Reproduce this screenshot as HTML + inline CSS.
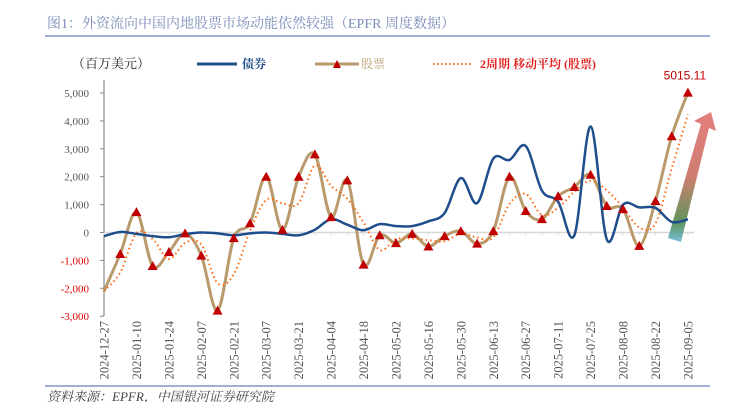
<!DOCTYPE html>
<html><head><meta charset="utf-8"><style>
body{margin:0;width:730px;height:402px;overflow:hidden;background:#fff;font-family:"Liberation Serif","Noto Serif CJK SC",serif}
#title{position:absolute;left:47px;top:13px;font-size:14px;color:#7a8cb8;white-space:nowrap}
</style></head><body>
<div id="title">图1：外资流向中国内地股票市场动能依然较强（EPFR 周度数据）</div>
<svg id="chart" width="730" height="402" style="position:absolute;left:0;top:0">
<defs><linearGradient id="ag" x1="0" y1="1" x2="0" y2="0"><stop offset="0" stop-color="#6ab8d8"/><stop offset="0.15" stop-color="#4d8a4a"/><stop offset="0.5" stop-color="#c87060"/><stop offset="1" stop-color="#e07070"/></linearGradient></defs>
<line x1="45" y1="36" x2="710" y2="36" stroke="#7f96c8" stroke-width="1.5"/>
<line x1="45" y1="386" x2="710" y2="386" stroke="#7f96c8" stroke-width="1.5"/>
<text x="47" y="401" font-size="13" font-style="italic" fill="#444">资料来源：EPFR，中国银河证券研究院</text>
<text x="72" y="68" font-size="13" fill="#222">（百万美元）</text>
<g><line x1="197" y1="64" x2="237" y2="64" stroke="#1f4e8c" stroke-width="3"/><text x="242" y="68" font-size="12" font-weight="bold" fill="#1f4e8c">债券</text></g>
<g><line x1="315" y1="64" x2="359" y2="64" stroke="#b89a6c" stroke-width="3"/><path d="M333,68 L337,60 L341,68Z" fill="#c00000"/><text x="361" y="68" font-size="12" fill="#b89a6c">股票</text></g>
<g><line x1="433" y1="64" x2="472" y2="64" stroke="#ff6a10" stroke-width="2" stroke-dasharray="1.5,2.5"/><text x="480" y="68" font-size="12" font-weight="bold" fill="#e02020">2周期 移动平均 (股票)</text></g>
<g id="axes"></g><g id="series"></g>
</svg>
<script>
const categories=["2024-12-27","2025-01-03","2025-01-10","2025-01-17","2025-01-24","2025-01-31","2025-02-07","2025-02-14","2025-02-21","2025-02-28","2025-03-07","2025-03-14","2025-03-21","2025-03-28","2025-04-04","2025-04-11","2025-04-18","2025-04-25","2025-05-02","2025-05-09","2025-05-16","2025-05-23","2025-05-30","2025-06-06","2025-06-13","2025-06-20","2025-06-27","2025-07-04","2025-07-11","2025-07-18","2025-07-25","2025-08-01","2025-08-08","2025-08-15","2025-08-22","2025-08-29","2025-09-05"];
const stock=[-2100,-770,730,-1200,-700,-30,-830,-2800,-200,330,2000,100,2000,2800,550,1870,-1150,-100,-380,-50,-500,-130,50,-400,50,2000,770,480,1300,1630,2070,950,840,-480,1130,3450,5015.11];
const bond=[-130,20,-50,-130,-170,-60,0,-30,-100,-30,0,-50,-100,100,480,280,80,300,230,230,400,700,1950,1050,2650,2600,3100,1500,1100,-100,3800,-250,1000,900,880,380,470];
const yTicks=[5000,4000,3000,2000,1000,0,-1000,-2000,-3000];
const NS="http://www.w3.org/2000/svg";
const x0=104,dx=16.22,yZero=232.5,yPer=27.9/1000;
const X=i=>x0+i*dx, Y=v=>yZero-v*yPer;
const ax=document.getElementById('axes'),se=document.getElementById('series');
function mk(tag,at,parent){const e=document.createElementNS(NS,tag);for(const k in at)e.setAttribute(k,at[k]);parent.appendChild(e);return e;}
const yl=mk('line',{x1:x0,y1:80,x2:x0,y2:Y(-3000),stroke:'#888','stroke-width':1.2},ax);


const zl=mk('line',{x1:x0,y1:yZero,x2:X(36)+6,y2:yZero,stroke:'#d8d8d8','stroke-width':1.5},ax);


yTicks.forEach(v=>{
 mk('line',{x1:x0-4,y1:Y(v),x2:x0,y2:Y(v),stroke:'#888'},ax);
 const t=mk('text',{x:89,y:Y(v)+4,'text-anchor':'end','font-size':11,fill:v<0?'#e00000':'#555'},ax);
 t.textContent=v.toLocaleString('en-US');
 
 
});
categories.forEach((c,i)=>{
 mk('line',{x1:X(i),y1:yZero,x2:X(i),y2:yZero+3,stroke:'#ddd'},ax);
 if(i%2===0){const t=mk('text',{x:0,y:0,transform:`translate(${X(i)+4.5},321) rotate(-90)`,'text-anchor':'end','font-size':12.5,fill:'#555'},ax);
 t.textContent=c;
 
 }
});
function smooth(vals){const p=vals.map((v,i)=>[X(i),Y(v)]);let d=`M${p[0][0]},${p[0][1]}`;
 for(let i=0;i<p.length-1;i++){const a=p[i-1]||p[i],b=p[i],c=p[i+1],e=p[i+2]||c;
 d+=` C${b[0]+(c[0]-a[0])/6},${b[1]+(c[1]-a[1])/6} ${c[0]-(e[0]-b[0])/6},${c[1]-(e[1]-b[1])/6} ${c[0]},${c[1]}`;}return d;}
const ma=stock.map((v,i)=>i===0?v:(v+stock[i-1])/2);
const ar=mk('path',{d:'M668,238 L681,242 L709,128 L716,131 L711,112 L694,121 L701,124 Z',fill:'url(#ag)',opacity:0.9},se);


const sp=mk('path',{d:smooth(stock),fill:'none',stroke:'#b89a6c','stroke-width':3},se);


const mp=mk('path',{d:smooth(ma),fill:'none',stroke:'#ff6a10','stroke-width':2,'stroke-dasharray':'1.5,3'},se);


const bp=mk('path',{d:smooth(bond),fill:'none',stroke:'#1f4e8c','stroke-width':2.5},se);


stock.forEach((v,i)=>{if(i===0)return;const x=X(i),y=Y(v);
 const m=mk('path',{d:`M${x-5},${y+4} L${x},${y-5} L${x+5},${y+4}Z`,fill:'#c00000'},se);
 
 });
const lb=mk('text',{x:X(36)-3,y:Y(stock[36])-13,'text-anchor':'middle','font-size':12,fill:'#c00000','font-family':'Liberation Sans, sans-serif'},se);
lb.textContent=stock[36].toFixed(2);


</script>
</body></html>
